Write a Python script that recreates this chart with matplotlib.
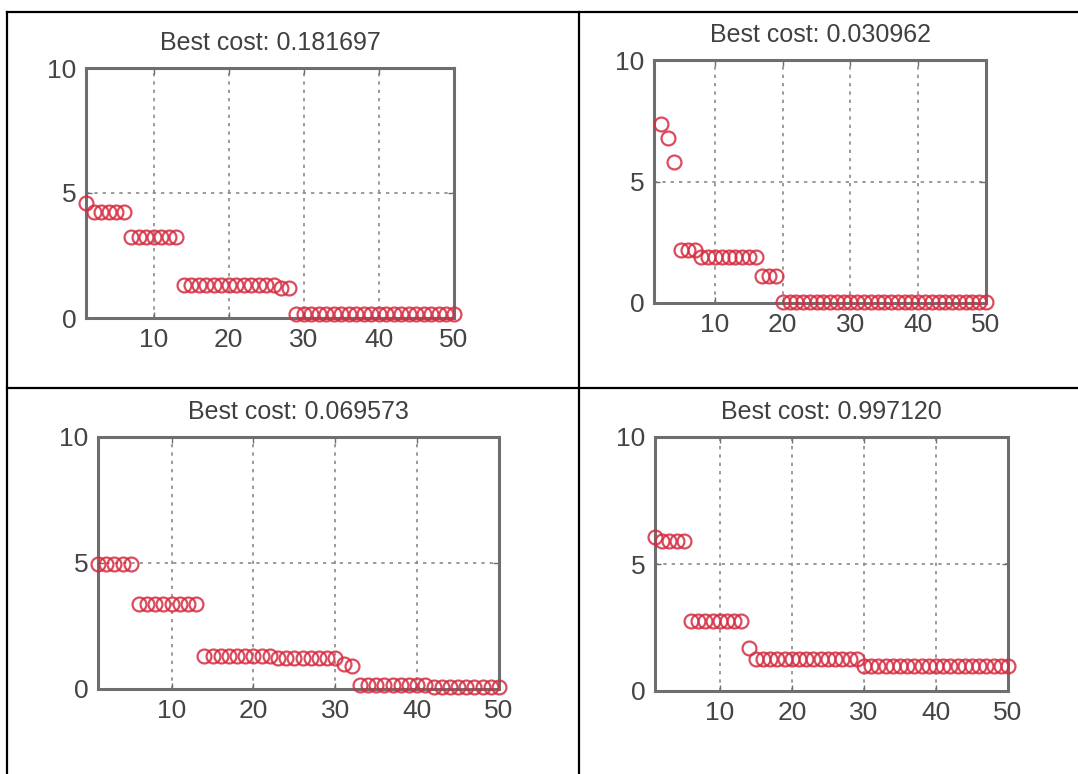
import matplotlib

matplotlib.use("Agg")
import matplotlib.pyplot as plt
from matplotlib.lines import Line2D
import numpy as np

plt.rcParams["font.family"] = ["Liberation Sans", "DejaVu Sans"]

# iteration index shared by all four runs
iters = np.arange(1, 51)

cost_a = [4.6, 4.25, 4.25, 4.25, 4.25, 4.25, 3.25, 3.25, 3.25, 3.25,
          3.25, 3.25, 3.25, 1.32, 1.32, 1.32, 1.32, 1.32, 1.32, 1.32,
          1.32, 1.32, 1.32, 1.32, 1.32, 1.32, 1.2, 1.2, 0.18, 0.18,
          0.18, 0.18, 0.18, 0.18, 0.18, 0.18, 0.18, 0.18, 0.18, 0.18,
          0.18, 0.18, 0.18, 0.18, 0.18, 0.18, 0.18, 0.18, 0.18, 0.18]
cost_b = [np.nan, 7.35, 6.8, 5.8, 2.2, 2.2, 2.2, 1.9, 1.9, 1.9,
          1.9, 1.9, 1.9, 1.9, 1.9, 1.9, 1.1, 1.1, 1.1, 0.03,
          0.03, 0.03, 0.03, 0.03, 0.03, 0.03, 0.03, 0.03, 0.03, 0.03,
          0.03, 0.03, 0.03, 0.03, 0.03, 0.03, 0.03, 0.03, 0.03, 0.03,
          0.03, 0.03, 0.03, 0.03, 0.03, 0.03, 0.03, 0.03, 0.03, 0.03]
cost_c = [4.95, 4.95, 4.95, 4.95, 4.95, 3.37, 3.37, 3.37, 3.37, 3.37,
          3.37, 3.37, 3.37, 1.3, 1.3, 1.3, 1.3, 1.3, 1.3, 1.3,
          1.3, 1.3, 1.25, 1.25, 1.25, 1.25, 1.25, 1.25, 1.25, 1.25,
          1.0, 0.9, 0.15, 0.15, 0.15, 0.15, 0.15, 0.15, 0.15, 0.15,
          0.15, 0.07, 0.07, 0.07, 0.07, 0.07, 0.07, 0.07, 0.07, 0.07]
cost_d = [6.05, 5.9, 5.9, 5.9, 5.9, 2.75, 2.75, 2.75, 2.75, 2.75,
          2.75, 2.75, 2.75, 1.7, 1.25, 1.25, 1.25, 1.25, 1.25, 1.25,
          1.25, 1.25, 1.25, 1.25, 1.25, 1.25, 1.25, 1.25, 1.25, 1.0,
          1.0, 1.0, 1.0, 1.0, 1.0, 1.0, 1.0, 1.0, 1.0, 1.0,
          1.0, 1.0, 1.0, 1.0, 1.0, 1.0, 1.0, 1.0, 1.0, 1.0]

titles = ["Best cost: 0.181697", "Best cost: 0.030962",
          "Best cost: 0.069573", "Best cost: 0.997120"]
xticks = [10, 20, 30, 40, 50]
yticks = [0, 5, 10]

W, H = 1078, 774
# axes boxes in pixels: left, top, right, bottom
boxes = [(86, 68, 454, 318), (654, 60, 986, 303),
         (98, 437, 499, 689), (655, 437, 1008, 691)]

fig = plt.figure(figsize=(W / 100, H / 100), dpi=100)

for cost, title, (l, t, r, b) in zip([cost_a, cost_b, cost_c, cost_d], titles, boxes):
    ax = fig.add_axes([l / W, 1 - b / H, (r - l) / W, (b - t) / H])
    ax.plot(iters, cost, "o", mfc="none", mec="#d62b40", ms=10, mew=1.6,
            alpha=0.85, clip_on=False, zorder=3)
    ax.set_xlim(1, 50); ax.set_ylim(0, 10)
    ax.set_xticks(xticks); ax.set_yticks(yticks)
    ax.grid(True, ls=(0, (2, 3)), color="#8a8a8a", lw=1.2)
    for s in ax.spines.values():
        s.set_color("#6e6e6e"); s.set_linewidth(2.2)
    ax.tick_params(direction="in", length=4, width=1, color="#6e6e6e",
                   labelsize=19, labelcolor="#444444", top=True, right=True, pad=7)
    ax.set_title(title, fontsize=18, color="#404040", pad=13)

# table rules around the four cells
lc = dict(color="black", lw=1.6, transform=fig.transFigure)
fig.add_artist(Line2D([7 / W, 7 / W], [0, 1 - 12 / H], **lc))
fig.add_artist(Line2D([7 / W, 1], [1 - 12 / H, 1 - 12 / H], **lc))
fig.add_artist(Line2D([579 / W, 579 / W], [0, 1 - 12 / H], **lc))
fig.add_artist(Line2D([7 / W, 1], [1 - 387.5 / H, 1 - 387.5 / H], **lc))

fig.savefig("out.png", dpi=100)
